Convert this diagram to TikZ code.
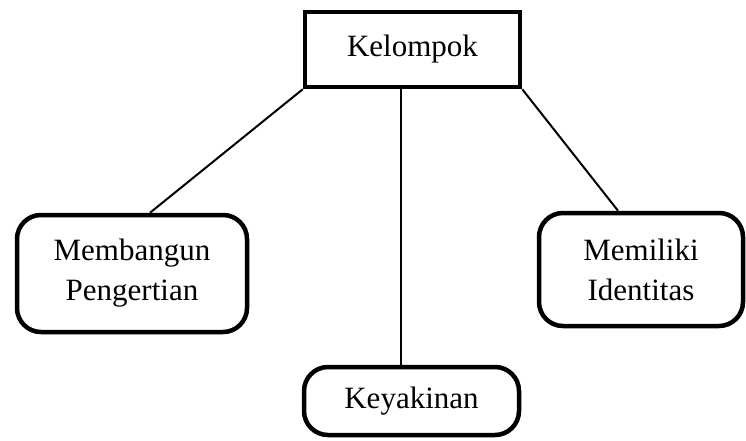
\documentclass[tikz,border=0pt]{standalone}
\usepackage{fontspec}
\setmainfont{Liberation Serif}
\usetikzlibrary{backgrounds}
\begin{document}
\begin{tikzpicture}[x=1pt,y=-1pt,
  label text/.style={font=\fontsize{31}{40}\selectfont, align=center, inner sep=0pt},
  headbox/.style={label text, draw, line width=4.5pt, fill=white},
  itembox/.style={label text, draw, line width=4.5pt, rounded corners=24pt, fill=white},
  link/.style={line width=2pt}]
  \useasboundingbox (0,0) rectangle (746,441);

  % top node
  \node[headbox, minimum width=215pt, minimum height=75pt] (k) at (412.5,49.5) {Kelompok};

  % three branches
  \node[itembox, minimum width=230pt, minimum height=117pt] (m) at (132,273.5) {Membangun\\Pengertian};
  \node[itembox, minimum width=204pt, minimum height=113pt] (r) at (641,269.5) {Memiliki\\Identitas};
  \node[itembox, minimum width=215pt, minimum height=68pt] (y) at (411.5,401) {Keyakinan};

  % connectors, kept beneath the boxes
  \begin{scope}[on background layer]
    \draw[link] (k.south west) -- ([xshift=18pt]m.north);
    \draw[link] ([xshift=-11.5pt]k.south) coordinate (kv) -- (kv |- y.north);
    \draw[link] (k.south east) -- ([xshift=-23pt]r.north);
  \end{scope}
\end{tikzpicture}
\end{document}
